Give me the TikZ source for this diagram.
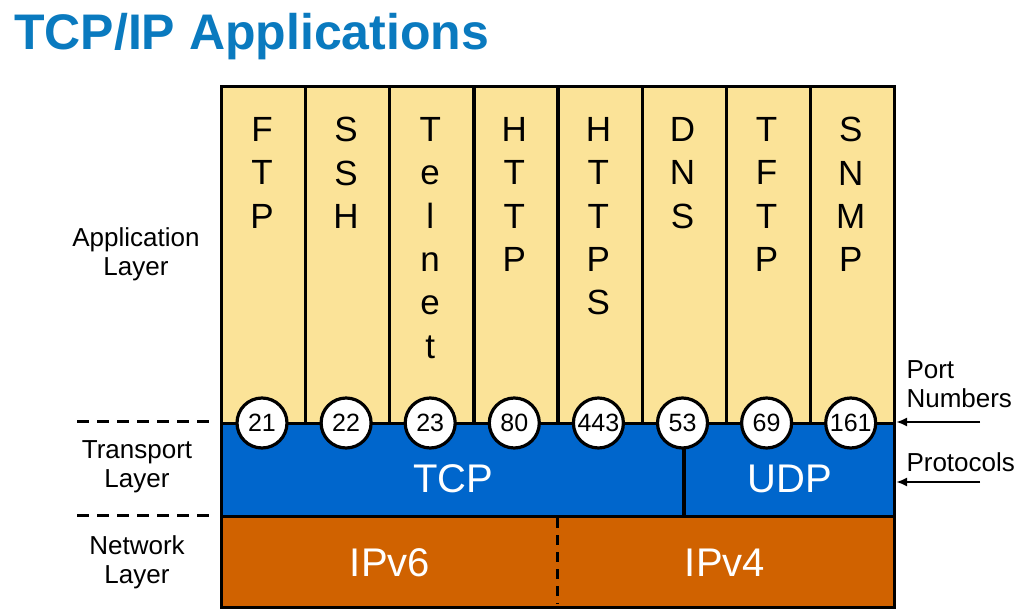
\documentclass[tikz,border=0pt]{standalone}
\usepackage{fontspec}
\setmainfont{Liberation Sans}
\usetikzlibrary{arrows.meta}
\definecolor{appyellow}{RGB}{251,227,152}
\definecolor{tpblue}{RGB}{0,102,204}
\definecolor{netorange}{RGB}{208,98,0}
\definecolor{titleblue}{RGB}{10,122,191}
\tikzset{
  frame/.style={draw=black, line width=3.2pt},
  appcol/.style={frame, fill=appyellow, minimum width=84.1pt, minimum height=338pt, inner sep=0pt, anchor=north west},
  applbl/.style={font=\fontsize{35}{43.4}\selectfont, align=center, anchor=north, inner sep=0pt},
  portc/.style={circle, frame, fill=white, minimum size=50pt, inner sep=0pt, font=\fontsize{25}{25}\selectfont},
  bandlbl/.style={text=white, font=\fontsize{40}{40}\selectfont},
  sidelbl/.style={font=\fontsize{26}{29}\selectfont, align=center},
  layerdash/.style={line width=3pt, dash pattern=on 12pt off 8pt},
  sidearrow/.style={line width=2.8pt, -{Latex[length=11pt,width=9pt]}}
}
\begin{document}
\begin{tikzpicture}[x=1pt,y=-1pt]
\useasboundingbox (0,0) rectangle (1023,609);
\fill[white] (0,0) rectangle (1023,609);

% title
\node[anchor=base west, inner sep=0pt, text=titleblue, font=\fontsize{50}{50}\selectfont\bfseries] (title) at (14,50) {TCP/IP Applications};

% application columns
\foreach \i/\t in {0/{F\\T\\P},1/{S\\S\\H},2/{T\\e\\l\\n\\e\\t},3/{H\\T\\T\\P},4/{H\\T\\T\\P\\S},5/{D\\N\\S},6/{T\\F\\T\\P},7/{S\\N\\M\\P}}{
  \node[appcol] (col\i) at ({220+84.1*\i},85) {};
  \node[applbl] (lbl\i) at ({262+84.1*\i},117) {\t};
}

% transport band
\node[frame, fill=tpblue, minimum width=673pt, minimum height=93pt, inner sep=0pt, anchor=north west] (transport) at (220,422) {};
\coordinate (split top) at (684,422);
\coordinate (split bot) at (684,515);
\draw[frame] (split top) -- (split bot);
\node[bandlbl] (tcp) at (453,479) {TCP};
\node[bandlbl] (udp) at (790,479) {UDP};

% network band
\node[frame, fill=netorange, minimum width=673pt, minimum height=91pt, inner sep=0pt, anchor=north west] (network) at (220,515) {};
\coordinate (ip top) at (557,518);
\coordinate (ip bot) at (557,604);
\draw[line width=3pt, dash pattern=on 10pt off 7pt] (ip top) -- (ip bot);
\node[bandlbl] (ipv6) at (390,563) {IPv6};
\node[bandlbl] (ipv4) at (725,563) {IPv4};

% port circles
\foreach \i/\p in {0/21,1/22,2/23,3/80,4/443,5/53,6/69,7/161}{
  \node[portc] (port\i) at ({262+84.1*\i},423) {\p};
}

% layer labels
\node[sidelbl] (applayer) at (136,254) {Application\\Layer};
\node[sidelbl] (tplayer) at (137,467) {Transport\\Layer};
\node[sidelbl] (netlayer) at (137,562) {Network\\Layer};
\coordinate (d1a) at (77,422); \coordinate (d1b) at (212,422);
\coordinate (d2a) at (77,515); \coordinate (d2b) at (212,515);
\draw[layerdash] (d1a) -- (d1b);
\draw[layerdash] (d2a) -- (d2b);

% right side annotations
\node[sidelbl, anchor=west, align=left] (portlbl) at (903,384) {Port\\Numbers};
\node[sidelbl, anchor=west] (protolbl) at (903,462) {Protocols};
\coordinate (pa) at (980,422); \coordinate (pb) at (896,422);
\coordinate (qa) at (980,482); \coordinate (qb) at (896,482);
\draw[sidearrow] (pa) -- (pb);
\draw[sidearrow] (qa) -- (qb);
\end{tikzpicture}
\end{document}
